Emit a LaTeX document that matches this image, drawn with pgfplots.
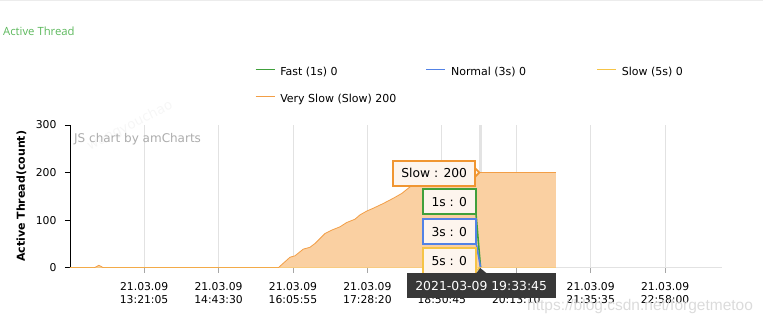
\documentclass[border=0pt]{standalone}
\usepackage{fontspec}
\setmainfont{DejaVu Sans}
\newfontfamily\titlefont{Open Sans}
\newfontfamily\wmfont{Liberation Sans}
\usepackage{pgfplots}
\usepackage{pgfplotstable}
\pgfplotsset{compat=1.18}
\definecolor{cFast}{RGB}{64,160,60}
\definecolor{cNormal}{RGB}{82,130,230}
\definecolor{cSlow}{RGB}{246,196,70}
\definecolor{cVSline}{RGB}{242,158,70}
\definecolor{cVSfill}{RGB}{250,208,162}
\definecolor{cTitle}{RGB}{92,184,92}
\definecolor{cGrid}{RGB}{226,226,226}
\definecolor{cBal}{RGB}{253,245,238}
\definecolor{cBalSlow}{RGB}{240,150,50}

% x = minutes since 00:00 on 2021-03-09
\pgfplotstableread{
x y
719 0
746 0
751 5
756 0
949.7 0
962.6 22
968.1 25
977.3 39
984.8 43
990.3 51
1001.4 72
1008.8 79
1018.0 86
1025.4 95
1034.6 102
1040.1 111
1047.5 119
1054.8 125
1065.9 135
1077.0 146
1086.3 156
1095.5 170
1106.6 178
1117.6 184
1134.2 191
1150.8 197
1167.5 200
1257.1 200
}\verySlow

\begin{document}
\begin{tikzpicture}[x=1pt,y=1pt]
\draw[gray!15, line width=1.5pt] (0,323.3) -- (763,323.3);
\node[anchor=west, inner sep=0pt, text=cTitle, font=\titlefont\fontsize{11.3}{12}\selectfont] at (3,293) {Active Thread};
\node[rotate=27, text=gray!7, font=\fontsize{13.5}{14}\selectfont] at (130,198) {wangyouchao};
\begin{axis}[
  at={(70pt,56.3pt)}, anchor=south west,
  scale only axis, width=652pt, height=142.7pt,
  xmin=719, xmax=1441, ymin=0, ymax=300,
  axis x line*=bottom, axis y line*=left,
  x axis line style={cGrid, line width=0.8pt, -},
  y axis line style={black, line width=0.9pt, -},
  xtick={801.0833,883.5,965.9167,1048.3333,1130.75,1213.1667,1295.5833,1378},
  xticklabels={{21.03.09\\13:21:05},{21.03.09\\14:43:30},{21.03.09\\16:05:55},{21.03.09\\17:28:20},{21.03.09\\18:50:45},{21.03.09\\20:13:10},{21.03.09\\21:35:35},{21.03.09\\22:58:00}},
  xticklabel style={align=center, font=\fontsize{10.8}{12.7}\selectfont, text=black, yshift=-6.5pt},
  ytick={0,100,200,300},
  yticklabel style={font=\fontsize{10.8}{12.7}\selectfont, text=black, xshift=-5pt},
  tick align=outside, major tick length=5pt,
  xtick style={draw=gray!70, line width=0.6pt},
  ytick style={draw=black, line width=0.9pt},
  xmajorgrids, major grid style={cGrid, line width=0.7pt},
  ylabel={Active Thread(count)},
  ylabel style={font=\bfseries\fontsize{11}{13}\selectfont, at={(axis description cs:-0.0745,0.5)}, anchor=center},
  legend columns=3,
  legend cell align=left,
  legend style={at={(axis description cs:0.2837,1.4064)}, anchor=north west, draw=none, fill=none, inner sep=0pt, row sep=16.6pt,
    nodes={inner sep=0pt, text height=8pt, text depth=3pt, font=\fontsize{11}{13}\selectfont},
    /tikz/every odd column/.append style={column sep=5.3pt}},
  legend image code/.code={\draw[#1, line width=0.8pt] (0pt,3.5pt) -- (19pt,3.5pt);},
  /pgf/number format/assume math mode=true,
]
\draw[gray!22, line width=3pt] (axis cs:1173.75,0) -- (axis cs:1173.75,300);
\addplot[cFast, line width=0.6pt] coordinates {(719,0) (1257.1,0)};
\addlegendentry{\makebox[145.7pt][l]{Fast (1s) 0}}
\addplot[cNormal, line width=0.6pt] coordinates {(719,0) (1257.1,0)};
\addlegendentry{\makebox[145.7pt][l]{Normal (3s) 0}}
\addplot[cSlow, line width=0.6pt] coordinates {(719,0) (1257.1,0)};
\addlegendentry{\makebox[145.7pt][l]{Slow (5s) 0}}
\addplot[fill=cVSfill, draw=none, forget plot] table[x=x, y=y] {\verySlow} \closedcycle;
\addplot[cVSline, line width=0.8pt] table[x=x, y=y] {\verySlow};
\addlegendentry{Very Slow (Slow) 200}
\end{axis}
\node[anchor=west, inner sep=0pt, text=gray!65, font=\fontsize{12}{14}\selectfont] at (74,185.3) {JS chart by amCharts};
% balloons
\draw[cFast, line width=1.6pt] (476,110) -- (480.5,57);
\draw[cNormal, line width=1.6pt] (476.5,79) -- (480.5,57);
\draw[cSlow, line width=1.6pt] (474.5,52) -- (480,56.5);
\filldraw[fill=cBal, draw=cBalSlow, line width=1.8pt] (474,157) -- (479.3,151.4) -- (474,146) -- cycle;
\node[draw=cBalSlow, fill=cBal, line width=1.8pt, minimum width=81.7pt, minimum height=25.3pt, inner sep=0pt, font=\fontsize{12.3}{14}\selectfont] at (434.2,150.7) {Slow : 200};
\node[draw=cFast, fill=cBal, line width=1.8pt, minimum width=53pt, minimum height=25.3pt, inner sep=0pt, font=\fontsize{12.3}{14}\selectfont] at (449.2,122.3) {1s : 0};
\node[draw=cNormal, fill=cBal, line width=1.8pt, minimum width=53pt, minimum height=25.3pt, inner sep=0pt, font=\fontsize{12.3}{14}\selectfont] at (449.2,92.3) {3s : 0};
\node[draw=cSlow, fill=cBal, line width=1.8pt, minimum width=53pt, minimum height=25.3pt, inner sep=0pt, font=\fontsize{12.3}{14}\selectfont] at (449.2,63.2) {5s : 0};
\fill[black!78] (476.2,50.7) -- (480.2,56) -- (486.7,50.7) -- cycle;
\node[fill=black!78, text=white, minimum width=149pt, minimum height=25pt, inner sep=0pt, font=\fontsize{12.4}{14}\selectfont] at (481.2,38.2) {2021-03-09 19:33:45};
\node[anchor=west, inner sep=0pt, text=gray!28, font=\wmfont\fontsize{15.5}{17}\selectfont] at (527,17.3) {https://blog.csdn.net/forgetmetoo};
\pgfresetboundingbox
\path[use as bounding box] (0,0) rectangle (763,324);
\end{tikzpicture}
\end{document}
